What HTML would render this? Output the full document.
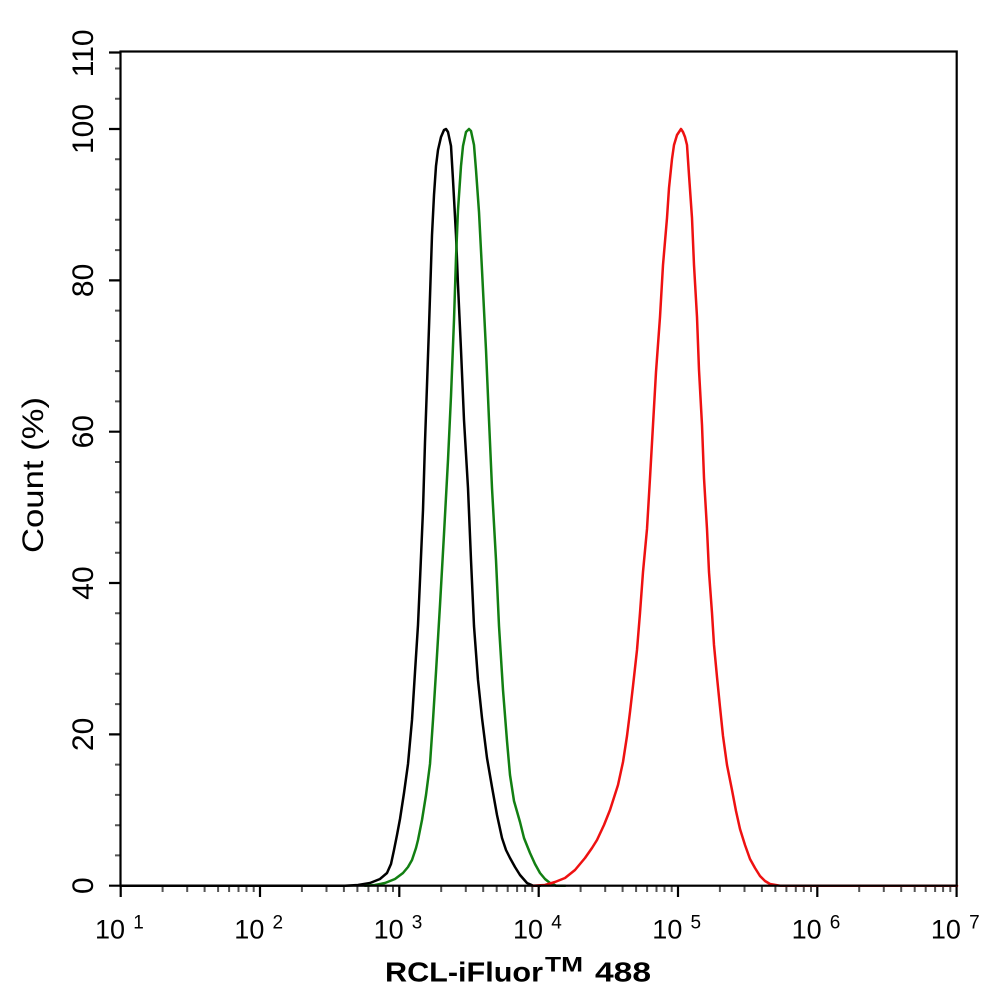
<!DOCTYPE html>
<html>
<head>
<meta charset="utf-8">
<style>
  html, body { margin:0; padding:0; background:#fff; }
  svg { display:block; }
  text { font-family: "Liberation Sans", Arial, sans-serif; fill:#000; }
</style>
</head>
<body>
<svg width="994" height="1002" viewBox="0 0 994 1002" xmlns="http://www.w3.org/2000/svg">
  <rect x="0" y="0" width="994" height="1002" fill="#fff"/>

  <!-- minor y ticks -->
  <path stroke="#555" stroke-width="2" fill="none" d="
    M115 855.4H120.5 M115 825.2H120.5 M115 794.9H120.5 M115 764.6H120.5
    M115 704.1H120.5 M115 673.8H120.5 M115 643.6H120.5 M115 613.3H120.5
    M115 552.7H120.5 M115 522.5H120.5 M115 492.2H120.5 M115 462.0H120.5
    M115 401.4H120.5 M115 371.1H120.5 M115 340.9H120.5 M115 310.6H120.5
    M115 250.1H120.5 M115 219.8H120.5 M115 189.5H120.5 M115 159.3H120.5
    M115 98.7H120.5 M115 68.5H120.5"/>

  <!-- minor x ticks -->
  <path stroke="#555" stroke-width="2" fill="none" d="
    M162.6 886V892 M187.2 886V892 M204.6 886V892 M218.1 886V892 M229.1 886V892 M238.5 886V892 M246.5 886V892 M253.7 886V892
    M301.9 886V892 M326.5 886V892 M343.9 886V892 M357.4 886V892 M368.4 886V892 M377.8 886V892 M385.8 886V892 M393.0 886V892
    M441.2 886V892 M465.8 886V892 M483.2 886V892 M496.7 886V892 M507.7 886V892 M517.1 886V892 M525.1 886V892 M532.3 886V892
    M580.6 886V892 M605.2 886V892 M622.6 886V892 M636.1 886V892 M647.1 886V892 M656.5 886V892 M664.5 886V892 M671.7 886V892
    M719.9 886V892 M744.5 886V892 M761.9 886V892 M775.4 886V892 M786.4 886V892 M795.8 886V892 M803.8 886V892 M811.0 886V892
    M859.2 886V892 M883.8 886V892 M901.2 886V892 M914.7 886V892 M925.7 886V892 M935.1 886V892 M943.1 886V892 M950.3 886V892"/>

  <!-- major y ticks -->
  <path stroke="#000" stroke-width="2.2" fill="none" d="
    M109 885.7H120.5 M109 734.4H120.5 M109 583.0H120.5 M109 431.7H120.5
    M109 280.4H120.5 M109 129.0H120.5 M109 52.5H120.5"/>

  <!-- major x ticks -->
  <path stroke="#000" stroke-width="2.2" fill="none" d="
    M120.7 886V897 M260.0 886V897 M399.3 886V897 M538.7 886V897
    M678.0 886V897 M817.3 886V897 M956.6 886V897"/>

  <!-- curves -->
  <polyline fill="none" stroke="#000" stroke-width="2.5" stroke-linejoin="round" stroke-linecap="round" points="
    122,885.7 345,885.7 358,885 370,883 380,879 387,873 391,864 394,850 397,835 400,819 404,793 408,764 412,720 415,672 418,625 420,580 423,510 425,442 427,385 429,327 432,235 434,195 436,166 438,150 441,137 444,130 446,129 448,132 451,146 453,180 456,235 458,285 461,350 464,420 468,488 471,560 474,626 478,680 482,718 487,758 492,787 497,815 502,838 506,850 510,858 515,867 520,875 527,883 533,885.7 540,885.7"/>

  <polyline fill="none" stroke="#127f12" stroke-width="2.5" stroke-linejoin="round" stroke-linecap="round" points="
    365,885.7 375,885 385,883 395,879 403,873 408,867 412,860 416,848 418,840 422,820 426,795 430,764 433,720 436,672 440,605 444,534 448,460 451,396 454,320 456,258 458,210 461,166 463,146 466,132 469,129 471,131 474,145 476,170 479,212 482,270 486,350 489,420 492,488 496,560 499,626 503,690 507,741 510,775 514,801 520,822 524,838 530,853 535,864 540,873 545,879 550,883 556,885.7 565,885.7"/>

  <polyline fill="none" stroke="#ee1111" stroke-width="2.5" stroke-linejoin="round" stroke-linecap="round" points="
    532,885.7 545,885 555,882 565,878 575,870 585,858 592,848 597,840 604,825 610,810 618,785 623,762 627,736 630,712 633,686 637,650 640,613 643,572 647,529 650,478 653,425 656,372 660,317 663,265 667,218 669,188 672,159 674,145 677,135 681,129 683,132 685,137 687,145 689,175 692,218 694,265 697,317 699,370 702,425 704,478 707,529 709,572 712,613 714,645 717,677 720,707 723,736 727,765 732,790 736,811 740,829 745,845 750,859 755,868 760,876 765,881 770,884 780,885.7 790,885.7 957,885.7"/>

  <!-- frame -->
  <rect x="120.5" y="51.5" width="836.2" height="834.2" fill="none" stroke="#000" stroke-width="2.2"/>

  <!-- y tick labels -->
  <g font-size="30" text-anchor="middle">
    <text transform="translate(93,885.7) rotate(-90)">0</text>
    <text transform="translate(93,734.4) rotate(-90)">20</text>
    <text transform="translate(93,583.0) rotate(-90)">40</text>
    <text transform="translate(93,431.7) rotate(-90)">60</text>
    <text transform="translate(93,280.4) rotate(-90)">80</text>
    <text transform="translate(93,129.0) rotate(-90)">100</text>
    <text transform="translate(93,53.3) rotate(-90)">110</text>
  </g>

  <!-- x tick labels -->
  <g font-size="27">
    <text x="95" y="938.5">10</text>
    <text x="234.3" y="938.5">10</text>
    <text x="373.6" y="938.5">10</text>
    <text x="513" y="938.5">10</text>
    <text x="652.3" y="938.5">10</text>
    <text x="791.6" y="938.5">10</text>
    <text x="930.9" y="938.5">10</text>
  </g>
  <g font-size="19">
    <text x="133.2" y="928.5">1</text>
    <text x="272.5" y="928.5">2</text>
    <text x="411.8" y="928.5">3</text>
    <text x="551.2" y="928.5">4</text>
    <text x="690.5" y="928.5">5</text>
    <text x="829.8" y="928.5">6</text>
    <text x="969.1" y="928.5">7</text>
  </g>

  <!-- axis titles -->
  <text transform="translate(43,475) rotate(-90)" font-size="30" text-anchor="middle" textLength="156" lengthAdjust="spacingAndGlyphs">Count  (%)</text>

  <g font-weight="bold">
    <text x="385" y="981.7" font-size="28" textLength="158" lengthAdjust="spacingAndGlyphs">RCL-iFluor</text>
    <text x="545" y="971.5" font-size="21" textLength="38" lengthAdjust="spacingAndGlyphs">TM</text>
    <text x="595" y="981.7" font-size="28" textLength="56" lengthAdjust="spacingAndGlyphs">488</text>
  </g>
</svg>
</body>
</html>
